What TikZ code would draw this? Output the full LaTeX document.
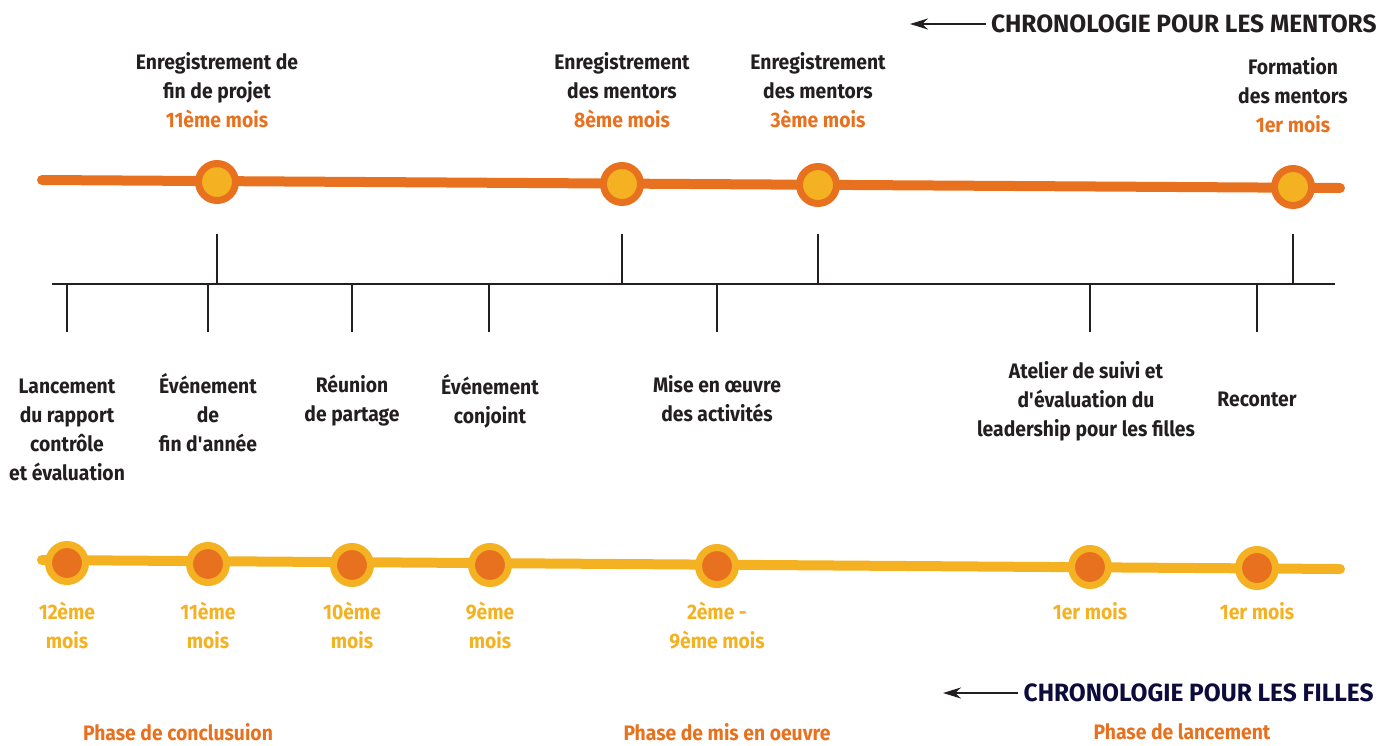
\documentclass[tikz,border=0pt]{standalone}
\usepackage{fontspec}
\setmainfont{Fira Sans}[FakeStretch=0.92]
\newfontfamily\titrefont{Fira Sans}[FakeStretch=0.98]
\usetikzlibrary{arrows.meta}
\definecolor{tlorange}{HTML}{E8711F}
\definecolor{tlyellow}{HTML}{F4B223}
\definecolor{tltext}{HTML}{231F20}
\definecolor{tlnavy}{HTML}{0D0B3C}
\tikzstyle{lbl}=[font=\fontsize{10.5}{14.5}\selectfont\bfseries,text=tltext,align=center,anchor=north,inner sep=0pt]
\tikzstyle{moisf}=[lbl,text=tlyellow]
\tikzstyle{phase}=[lbl,text=tlorange]
\tikzstyle{dotm}=[circle,fill=tlyellow,draw=tlorange,line width=3.5pt,minimum size=18.5pt,inner sep=0pt]
\tikzstyle{dotf}=[circle,fill=tlorange,draw=tlyellow,line width=3.5pt,minimum size=18.5pt,inner sep=0pt]
\tikzstyle{tick}=[line width=1pt,draw=tltext]
\tikzstyle{titre}=[font=\titrefont\fontsize{12.5}{15}\selectfont\bfseries,anchor=east,inner sep=2.5pt]
\tikzstyle{fleche}=[line width=1.2pt,draw=tltext,-{Stealth[length=9pt,width=5.5pt]}]

\begin{document}
\begin{tikzpicture}[x=0.5pt,y=-0.5pt]
  \useasboundingbox (0,0) rectangle (1397,745);

  % titres
  \node[titre,text=tltext] (tmentors) at (1382,24) {CHRONOLOGIE POUR LES MENTORS};
  \coordinate (amentors) at (910,22);
  \draw[fleche] (tmentors.west) -- (amentors |- tmentors.west);
  \node[titre,text=tlnavy] (tfilles) at (1379,693) {CHRONOLOGIE POUR LES FILLES};
  \coordinate (afilles) at (943,692);
  \draw[fleche] (tfilles.west) -- (afilles |- tfilles.west);

  % ligne des mentors
  \coordinate (ms) at (42,180);
  \coordinate (me) at (1340,188);
  \draw[line width=5pt,tlorange,line cap=round] (ms) -- (me);
  \node[dotm] (m11) at (217,182) {};
  \node[dotm] (m8) at (622,184) {};
  \node[dotm] (m3) at (818,185) {};
  \node[dotm] (m1) at (1293,187) {};

  \node[lbl] (lm11) at (217,52) {Enregistrement de\\fin de projet\\{\color{tlorange}11ème mois}};
  \node[lbl] (lm8) at (622,52) {Enregistrement\\des mentors\\{\color{tlorange}8ème mois}};
  \node[lbl] (lm3) at (818,52) {Enregistrement\\des mentors\\{\color{tlorange}3ème mois}};
  \node[lbl] (lm1) at (1293,57) {Formation\\des mentors\\{\color{tlorange}1er mois}};

  % axe central
  \coordinate (axl) at (52,284);
  \coordinate (axr) at (1335,284);
  \draw[tick] (axl) -- (axr);
  \foreach \x/\n in {217/a,622/b,818/c,1293/d}{
    \coordinate (tu\n) at (\x,234);
    \draw[tick] (tu\n) -- (tu\n |- axl);
  }
  \foreach \x/\n in {67/a,208/b,352/c,489/d,717/e,1090/f,1257/g}{
    \coordinate (td\n) at (\x,332);
    \draw[tick] (td\n) -- (td\n |- axl);
  }

  % ligne des filles
  \coordinate (fs) at (42,560);
  \coordinate (fe) at (1340,569);
  \draw[line width=5pt,tlyellow,line cap=round] (fs) -- (fe);
  \node[dotf] (f12) at (67,563) {};
  \node[dotf] (f11) at (208,564) {};
  \node[dotf] (f10) at (352,565) {};
  \node[dotf] (f9) at (490,565) {};
  \node[dotf] (f2) at (717,566) {};
  \node[dotf] (f1a) at (1090,567) {};
  \node[dotf] (f1b) at (1257,568) {};

  \node[lbl] (lf12) at (67,379) {Lancement\\du rapport\\contrôle\\et évaluation};
  \node[lbl] (lf11) at (208,373) {Événement\\de\\fin d\textquotesingle année};
  \node[lbl] (lf10) at (352,375) {Réunion\\de partage};
  \node[lbl] (lf9) at (490,374) {Événement\\conjoint};
  \node[lbl] (lf2) at (717,375) {Mise en œuvre\\des activités};
  \node[lbl] (lf1a) at (1086,361) {Atelier de suivi et\\d\textquotesingle évaluation du\\leadership pour les filles};
  \node[lbl] (lf1b) at (1257,392) {Reconter};

  \node[moisf] (mf12) at (67,602) {12ème\\mois};
  \node[moisf] (mf11) at (208,602) {11ème\\mois};
  \node[moisf] (mf10) at (352,602) {10ème\\mois};
  \node[moisf] (mf9) at (490,602) {9ème\\mois};
  \node[moisf] (mf2) at (717,602) {2ème -\\9ème mois};
  \node[moisf] (mf1a) at (1090,602) {1er mois};
  \node[moisf] (mf1b) at (1257,602) {1er mois};

  % phases
  \node[phase] (pconc) at (178,723) {Phase de conclusuion};
  \node[phase] (pmise) at (727,723) {Phase de mis en oeuvre};
  \node[phase] (planc) at (1182,723) {Phase de lancement};
\end{tikzpicture}
\end{document}
